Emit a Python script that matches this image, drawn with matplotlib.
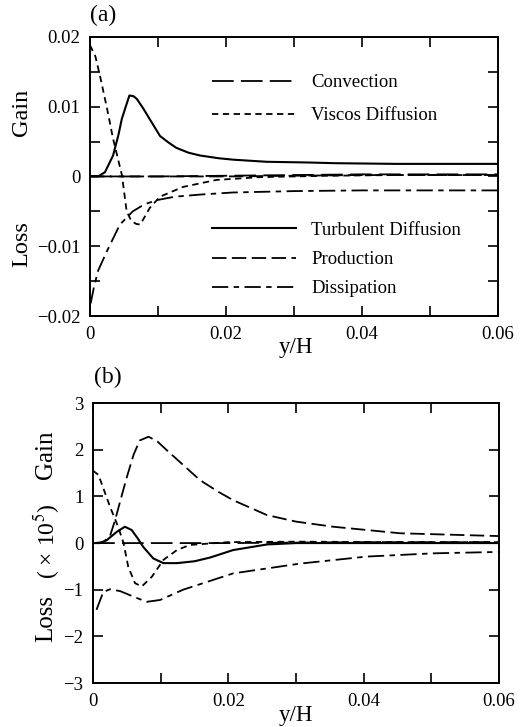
import matplotlib
matplotlib.use("Agg")
import matplotlib.pyplot as plt
from matplotlib.ticker import MultipleLocator, FixedLocator, FuncFormatter
from matplotlib.lines import Line2D

plt.rcParams["font.family"] = ["Liberation Serif", "DejaVu Serif"]
plt.rcParams["mathtext.fontset"] = "stix"
plt.rcParams["axes.unicode_minus"] = True

# ---------------- panel (a) data ----------------
a_turb_x = [0, 0.0012, 0.0022, 0.0034, 0.0042, 0.0047, 0.0052, 0.0058, 0.0064, 0.0069,
            0.0078, 0.0088, 0.0103, 0.0115, 0.0127, 0.0145, 0.0162, 0.019, 0.0211,
            0.026, 0.032, 0.036, 0.045, 0.06]
a_turb_y = [0, 0, 0.0006, 0.003, 0.006, 0.0083, 0.0098, 0.0116, 0.0115, 0.0111,
            0.0098, 0.0082, 0.0058, 0.0049, 0.0041, 0.0034, 0.003, 0.0026, 0.0024,
            0.0021, 0.002, 0.0019, 0.0018, 0.0018]

a_visc_x = [0, 0.0008, 0.0015, 0.0025, 0.0034, 0.0047, 0.0054, 0.0061, 0.0068, 0.0074,
            0.0088, 0.0103, 0.0137, 0.0186, 0.025, 0.035, 0.045, 0.06]
a_visc_y = [0.0188, 0.0172, 0.0143, 0.0098, 0.0054, 0.0002, -0.005, -0.0064, -0.0068, -0.0069,
            -0.0045, -0.0029, -0.0015, -0.0005, -0.0001, 0.0001, 0.0002, 0.0002]

a_diss_x = [0.0001, 0.0006, 0.0012, 0.0025, 0.0044, 0.0063, 0.0080, 0.0098, 0.0125, 0.0162,
            0.021, 0.03, 0.04, 0.05, 0.06]
a_diss_y = [-0.0182, -0.0158, -0.0135, -0.0107, -0.0069, -0.005, -0.004, -0.0034, -0.0029, -0.0026,
            -0.0023, -0.0021, -0.002, -0.002, -0.002]

a_conv_x = [0, 0.01, 0.02, 0.03, 0.04, 0.05, 0.06]
a_conv_y = [0, 0, 0.0001, 0.0002, 0.0003, 0.0003, 0.0003]

a_prod_x = [0, 0.01, 0.02, 0.03, 0.04, 0.05, 0.06]
a_prod_y = [0, 0, 0, 0.0001, 0.0002, 0.0002, 0.0002]

# ---------------- panel (b) data (x 10^5) ----------------
b_prod_x = [0, 0.0015, 0.0025, 0.00325, 0.0042, 0.005, 0.006, 0.0069, 0.0082, 0.0095,
            0.0109, 0.0135, 0.0158, 0.0185, 0.0207, 0.0257, 0.03, 0.0355, 0.0454, 0.06]
b_prod_y = [0, 0.02, 0.15, 0.49, 1.0, 1.42, 1.9, 2.2, 2.28, 2.18,
            1.99, 1.65, 1.35, 1.1, 0.92, 0.6, 0.46, 0.35, 0.21, 0.15]

b_visc_x = [0, 0.0008, 0.0025, 0.0037, 0.0045, 0.0052, 0.0062, 0.0072, 0.0087, 0.0104,
            0.0124, 0.0143, 0.02, 0.03, 0.045, 0.06]
b_visc_y = [1.55, 1.46, 0.78, 0.35, 0.0, -0.51, -0.86, -0.93, -0.72, -0.36,
            -0.15, -0.04, 0.02, 0.03, 0.02, 0.02]

b_turb_x = [0, 0.001, 0.002, 0.0035, 0.0047, 0.0057, 0.0066, 0.0074, 0.0089, 0.0104,
            0.0124, 0.015, 0.0173, 0.0207, 0.0257, 0.03, 0.045, 0.06]
b_turb_y = [0, 0, 0.06, 0.24, 0.35, 0.28, 0.1, -0.08, -0.33, -0.43,
            -0.43, -0.39, -0.31, -0.15, -0.03, 0.0, 0.0, 0.0]

b_diss_x = [0.0005, 0.0015, 0.0025, 0.004, 0.006, 0.0079, 0.0099, 0.0133, 0.0207, 0.0306,
            0.0404, 0.0503, 0.06]
b_diss_y = [-1.43, -1.05, -0.99, -1.03, -1.15, -1.26, -1.22, -1.0, -0.65, -0.44,
            -0.29, -0.22, -0.19]

b_conv_x = [0, 0.01, 0.02, 0.03, 0.04, 0.05, 0.06]
b_conv_y = [0, 0, 0, 0.01, 0.02, 0.02, 0.02]

x_tick_labels = ["0", "0.02", "0.04", "0.06"]

# line styles
LW = 1.3
style_conv = dict(color="black", lw=LW, dashes=(12, 4))
style_prod = dict(color="black", lw=LW, dashes=(8, 3))
style_visc = dict(color="black", lw=LW, dashes=(3.5, 2.5))
style_turb = dict(color="black", lw=LW + 0.2, linestyle="-")
style_diss = dict(color="black", lw=LW, dashes=(9, 3, 3, 3))

FS = 13.5

fig = plt.figure(figsize=(5.23, 7.27), dpi=100)
ax_a = fig.add_axes([0.172, 0.5653, 0.780, 0.384])
ax_b = fig.add_axes([0.178, 0.0605, 0.776, 0.385])


def minus_fmt(fmt):
    def f(v, pos):
        if abs(v) < 1e-12:
            return "0"
        s = fmt.format(v)
        return s.replace("-", "\u2212")
    return FuncFormatter(f)


def style_axes(ax):
    for sp in ax.spines.values():
        sp.set_linewidth(1.4)
    ax.tick_params(which="both", direction="in", top=True, right=True,
                   labelsize=FS, width=1.2, pad=7)
    ax.tick_params(which="major", length=7)
    ax.tick_params(which="minor", length=7)
    ax.set_xlim(0, 0.06)
    ax.xaxis.set_major_locator(FixedLocator([0, 0.02, 0.04, 0.06]))
    ax.xaxis.set_minor_locator(MultipleLocator(0.01))
    ax.set_xticklabels(x_tick_labels)


# ---------------- panel (a) ----------------
ax = ax_a
ax.plot(a_conv_x, a_conv_y, **style_conv)
ax.plot(a_prod_x, a_prod_y, **style_prod)
ax.plot(a_visc_x, a_visc_y, **style_visc)
ax.plot(a_diss_x, a_diss_y, **style_diss)
ax.plot(a_turb_x, a_turb_y, **style_turb)
style_axes(ax)
ax.set_ylim(-0.02, 0.02)
ax.yaxis.set_major_locator(FixedLocator([-0.02, -0.01, 0, 0.01, 0.02]))
ax.yaxis.set_minor_locator(MultipleLocator(0.005))
ax.yaxis.set_major_formatter(minus_fmt("{:.2f}"))

leg_kw = dict(frameon=False, fontsize=FS, handlelength=4.5, handletextpad=0.8,
              borderpad=0, borderaxespad=0, loc="upper left")
h_conv = Line2D([], [], **style_conv)
h_visc = Line2D([], [], **style_visc)
h_turb = Line2D([], [], **style_turb)
h_prod = Line2D([], [], **style_prod)
h_diss = Line2D([], [], **style_diss)
leg1 = ax.legend([h_conv, h_visc], ["Convection", "Viscos Diffusion"],
                 bbox_to_anchor=(0.299, 0.867), labelspacing=0.85, **leg_kw)
ax.add_artist(leg1)
ax.legend([h_turb, h_prod, h_diss], ["Turbulent Diffusion", "Production", "Dissipation"],
          bbox_to_anchor=(0.299, 0.338), labelspacing=0.65, **leg_kw)

fig.text(103 / 523, 1 - 15 / 727, "(a)", fontsize=17, ha="center", va="center")
fig.text(296 / 523, 1 - 348 / 727, "y/H", fontsize=16.5, ha="center", va="center")
fig.text(22 / 523, 1 - 112 / 727, "Gain", fontsize=17.5, rotation=90, ha="center", va="center")
fig.text(22 / 523, 1 - 244 / 727, "Loss", fontsize=17.5, rotation=90, ha="center", va="center")

# ---------------- panel (b) ----------------
ax = ax_b
ax.plot(b_conv_x, b_conv_y, **style_conv)
ax.plot(b_prod_x, b_prod_y, **style_prod)
ax.plot(b_visc_x, b_visc_y, **style_visc)
ax.plot(b_diss_x, b_diss_y, **style_diss)
ax.plot(b_turb_x, b_turb_y, **style_turb)
style_axes(ax)
ax.set_ylim(-3, 3)
ax.yaxis.set_major_locator(MultipleLocator(1))
ax.yaxis.set_major_formatter(minus_fmt("{:.0f}"))

fig.text(108 / 523, 1 - 377 / 727, "(b)", fontsize=17, ha="center", va="center")
fig.text(296 / 523, 1 - 715 / 727, "y/H", fontsize=16.5, ha="center", va="center")
fig.text(46 / 523, 1 - 455 / 727, "Gain", fontsize=18, rotation=90, ha="center", va="center")
fig.text(47 / 523, 1 - 541 / 727, "( \u00d7 10$^{5}$)", fontsize=17, rotation=90,
         ha="center", va="center")
fig.text(46 / 523, 1 - 619 / 727, "Loss", fontsize=18, rotation=90, ha="center", va="center")

fig.savefig("out.png", dpi=100)
